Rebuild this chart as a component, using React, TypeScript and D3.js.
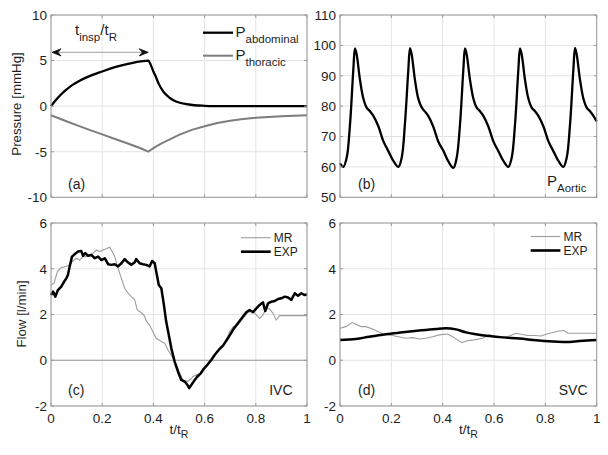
import React from 'react';
import * as d3 from 'd3';

const FONT = '"Liberation Sans", Arial, Helvetica, sans-serif';

// ---- ticks ----
const xTicks = [0, 0.2, 0.4, 0.6, 0.8, 1];
const xTickLabels = ['0', '0.2', '0.4', '0.6', '0.8', '1'];
const pressureTicks = [-10, -5, 0, 5, 10];
const aorticTicks = [50, 60, 70, 80, 90, 100, 110];
const flowTicks = [-2, 0, 2, 4, 6];

// ---- (a) abdominal / thoracic pressure ----
const abdT = [0, 0.02, 0.04, 0.06, 0.08, 0.1, 0.13, 0.16, 0.2, 0.24, 0.28, 0.32, 0.35, 0.38, 0.39, 0.4, 0.41, 0.42, 0.44, 0.46, 0.48, 0.5, 0.53, 0.56, 0.6, 0.65, 0.7, 0.8, 0.9, 1];
const abdP = [0, 0.7, 1.3, 1.8, 2.25, 2.6, 3.05, 3.4, 3.8, 4.2, 4.5, 4.75, 4.9, 5.0, 4.5, 3.8, 3.2, 2.5, 1.55, 1.0, 0.62, 0.4, 0.22, 0.1, 0.04, 0.01, 0, 0, 0, 0];
const thT = [0, 0.05, 0.1, 0.15, 0.2, 0.25, 0.3, 0.35, 0.38, 0.4, 0.43, 0.46, 0.5, 0.55, 0.6, 0.65, 0.7, 0.75, 0.8, 0.85, 0.9, 0.95, 1];
const thP = [-1, -1.55, -2.08, -2.6, -3.1, -3.6, -4.1, -4.62, -5.0, -4.6, -4.1, -3.7, -3.15, -2.6, -2.2, -1.85, -1.6, -1.42, -1.28, -1.18, -1.1, -1.04, -1.0];
const tInsp = 0.38;
const arrowLevel = 5.9;

// ---- (b) aortic pressure ----
const aortic: [number, number][] = [
  [0, 61.2],
  [0.013, 60], [0.026, 63], [0.039, 74], [0.0519, 92], [0.0584, 99], [0.0649, 97], [0.0779, 88.6], [0.0909, 82.5], [0.1039, 79.5], [0.1169, 78.3], [0.1299, 76.8], [0.1494, 73.4], [0.1688, 68.5], [0.1883, 65.2], [0.2078, 62],
  [0.2273, 60], [0.2403, 63], [0.2532, 74.5], [0.2662, 92], [0.2727, 99.1], [0.2792, 97], [0.2922, 88.5], [0.3052, 82.4], [0.3182, 79.6], [0.3312, 78.2], [0.3442, 76.7], [0.3636, 73.2], [0.3831, 68.3], [0.4026, 65.3], [0.4221, 61.8],
  [0.4416, 59.7], [0.4545, 63], [0.4675, 74], [0.4805, 92], [0.487, 99], [0.4935, 97], [0.5065, 88.6], [0.5195, 82.5], [0.5325, 79.5], [0.5455, 78.3], [0.5584, 76.8], [0.5779, 73.3], [0.5974, 68.4], [0.6169, 65.2], [0.6364, 62],
  [0.6558, 60], [0.6688, 63], [0.6818, 74], [0.6948, 92], [0.7013, 99], [0.7078, 97], [0.7208, 88.6], [0.7338, 82.5], [0.7468, 79.5], [0.7597, 78.3], [0.7727, 76.8], [0.7922, 73.4], [0.8117, 68.5], [0.8312, 65.2], [0.8506, 62],
  [0.8701, 60], [0.8831, 63], [0.8961, 74], [0.9091, 92], [0.9156, 99.2], [0.9221, 97], [0.9351, 88.6], [0.9481, 82.5], [0.961, 79.5], [0.974, 78.3], [0.987, 76.8], [1.0, 75],
];

// ---- (c) IVC flow ----
const ivcExp: [number, number][] = [
  [0, 2.85], [0.008, 3.0], [0.017, 2.78], [0.027, 3.07], [0.04, 3.22], [0.051, 3.43], [0.06, 3.58], [0.066, 3.73], [0.073, 4.1], [0.082, 4.53], [0.092, 4.63], [0.105, 4.75], [0.118, 4.78], [0.125, 4.57], [0.134, 4.68], [0.145, 4.57], [0.158, 4.6], [0.171, 4.46], [0.184, 4.53], [0.197, 4.38], [0.21, 4.46], [0.223, 4.2], [0.236, 4.17], [0.249, 4.2], [0.262, 4.1], [0.275, 4.24], [0.288, 4.42], [0.3, 4.28], [0.314, 4.17], [0.327, 4.28], [0.333, 4.42], [0.346, 4.24], [0.359, 4.2], [0.372, 4.17], [0.385, 4.1], [0.395, 4.34], [0.405, 4.24], [0.411, 3.88], [0.421, 3.29], [0.431, 3.15], [0.441, 2.42], [0.45, 1.69], [0.46, 1.11], [0.47, 0.52], [0.483, -0.06], [0.496, -0.5], [0.509, -0.86], [0.522, -0.93], [0.533, -1.08], [0.54, -1.22], [0.548, -1.08], [0.559, -0.9], [0.572, -0.71], [0.585, -0.57], [0.598, -0.35], [0.611, -0.2], [0.626, 0.01], [0.639, 0.23], [0.655, 0.45], [0.672, 0.64], [0.691, 0.96], [0.711, 1.33], [0.73, 1.62], [0.75, 1.91], [0.763, 2.1], [0.776, 2.2], [0.789, 2.1], [0.802, 2.27], [0.815, 2.42], [0.828, 2.53], [0.837, 2.15], [0.848, 2.49], [0.861, 2.56], [0.874, 2.59], [0.887, 2.68], [0.9, 2.71], [0.913, 2.78], [0.926, 2.74], [0.939, 2.64], [0.952, 2.93], [0.965, 2.82], [0.978, 2.93], [0.991, 2.85], [1.0, 2.88],
];
const ivcMr: [number, number][] = [
  [0, 3.29], [0.012, 3.37], [0.025, 3.88], [0.04, 4.05], [0.06, 4.1], [0.073, 4.17], [0.086, 4.34], [0.099, 4.46], [0.112, 4.38], [0.125, 4.53], [0.138, 4.53], [0.151, 4.6], [0.164, 4.68], [0.177, 4.82], [0.19, 4.75], [0.203, 4.82], [0.216, 4.87], [0.229, 4.94], [0.238, 4.78], [0.249, 4.53], [0.262, 4.02], [0.275, 3.58], [0.288, 3.15], [0.301, 2.93], [0.314, 2.78], [0.327, 2.64], [0.337, 2.2], [0.35, 2.1], [0.363, 1.98], [0.374, 1.69], [0.385, 1.54], [0.398, 1.25], [0.411, 0.96], [0.428, 0.84], [0.444, 0.74], [0.457, 0.45], [0.473, 0.16], [0.49, -0.2], [0.503, -0.57], [0.516, -0.86], [0.533, -0.93], [0.546, -0.82], [0.555, -0.71], [0.568, -0.64], [0.581, -0.61], [0.6, -0.38], [0.626, 0.01], [0.652, 0.38], [0.678, 0.74], [0.698, 1.25], [0.711, 1.47], [0.73, 1.54], [0.75, 1.83], [0.77, 2.1], [0.789, 2.15], [0.802, 1.98], [0.815, 1.83], [0.828, 1.98], [0.841, 2.27], [0.854, 2.24], [0.867, 2.05], [0.88, 1.76], [0.893, 1.95], [0.906, 1.95], [1.0, 1.95],
];

// ---- (d) SVC flow ----
const svcExp: [number, number][] = [
  [0, 0.89], [0.062, 0.93], [0.114, 1.03], [0.179, 1.14], [0.244, 1.22], [0.309, 1.3], [0.374, 1.37], [0.413, 1.4], [0.452, 1.35], [0.491, 1.22], [0.53, 1.14], [0.582, 1.06], [0.634, 1.0], [0.699, 0.95], [0.764, 0.87], [0.829, 0.82], [0.881, 0.8], [0.932, 0.84], [1.0, 0.89],
];
const svcMr: [number, number][] = [
  [0, 1.4], [0.023, 1.47], [0.047, 1.65], [0.062, 1.57], [0.082, 1.47], [0.101, 1.47], [0.127, 1.37], [0.153, 1.22], [0.173, 1.14], [0.205, 1.08], [0.231, 1.02], [0.257, 0.96], [0.283, 0.99], [0.309, 0.93], [0.335, 0.96], [0.361, 1.03], [0.387, 1.11], [0.419, 1.15], [0.439, 1.03], [0.458, 0.89], [0.475, 0.77], [0.497, 0.86], [0.523, 0.89], [0.556, 0.96], [0.582, 1.11], [0.608, 1.03], [0.634, 1.0], [0.66, 1.06], [0.686, 1.18], [0.705, 1.14], [0.731, 1.08], [0.757, 1.08], [0.783, 1.06], [0.803, 1.14], [0.829, 1.21], [0.855, 1.28], [0.874, 1.3], [0.887, 1.18], [1.0, 1.18],
];

type Lin = d3.ScaleLinear<number, number>;

const GRID = '#e4e4e4';
const AXIS = '#9a9a9a';
const TXT = '#1e1e1e';
const TICK_FS = 13.5;

function Grid({ x, y, yTicks }: { x: Lin; y: Lin; yTicks: number[] }) {
  const [x0, x1] = x.range();
  const [y0, y1] = y.range();
  return (
    <g>
      <rect x={x0} y={y1} width={x1 - x0} height={y0 - y1} fill="#fff" />
      {xTicks.map((t) => (
        <line key={'gx' + t} x1={x(t)} x2={x(t)} y1={y1} y2={y0} stroke={GRID} strokeWidth={1} />
      ))}
      {yTicks.map((v) => (
        <line key={'gy' + v} x1={x0} x2={x1} y1={y(v)} y2={y(v)} stroke={GRID} strokeWidth={1} />
      ))}
    </g>
  );
}

function Frame({ x, y, yTicks, showX }: { x: Lin; y: Lin; yTicks: number[]; showX: boolean }) {
  const [x0, x1] = x.range();
  const [y0, y1] = y.range();
  const tl = 3;
  return (
    <g>
      <rect x={x0} y={y1} width={x1 - x0} height={y0 - y1} fill="none" stroke={AXIS} strokeWidth={1} />
      {xTicks.map((t) => (
        <g key={'tx' + t}>
          <line x1={x(t)} x2={x(t)} y1={y0} y2={y0 - tl} stroke={AXIS} />
          <line x1={x(t)} x2={x(t)} y1={y1} y2={y1 + tl} stroke={AXIS} />
        </g>
      ))}
      {yTicks.map((v) => (
        <g key={'ty' + v}>
          <line x1={x0} x2={x0 + tl} y1={y(v)} y2={y(v)} stroke={AXIS} />
          <line x1={x1} x2={x1 - tl} y1={y(v)} y2={y(v)} stroke={AXIS} />
          <text x={x0 - 4} y={y(v)} dy="0.36em" textAnchor="end" fontSize={TICK_FS} fill={TXT}>
            {String(v)}
          </text>
        </g>
      ))}
      {showX &&
        xTicks.map((t, i) => (
          <text key={'lx' + t} x={x(t)} y={y0 + 16.5} textAnchor="middle" fontSize={TICK_FS} fill={TXT}>
            {xTickLabels[i]}
          </text>
        ))}
      {showX && (
        <text x={(x0 + x1) / 2} y={y0 + 27.5} textAnchor="middle" fontSize={13.5} fill={TXT}>
          t/t
          <tspan fontSize={10.5} dy={4.5}>R</tspan>
        </text>
      )}
    </g>
  );
}

function Legend({ xRight, yTop }: { xRight: number; yTop: number }) {
  const lx0 = xRight - 66;
  const lx1 = xRight - 36.3;
  return (
    <g fontSize={12} fill={TXT}>
      <line x1={lx0} x2={lx1} y1={yTop} y2={yTop} stroke="#9d9d9d" strokeWidth={1.1} />
      <text x={lx1 + 3} y={yTop + 4.3}>MR</text>
      <line x1={lx0} x2={lx1} y1={yTop + 14} y2={yTop + 14} stroke="#000" strokeWidth={2.6} />
      <text x={lx1 + 3} y={yTop + 18.3}>EXP</text>
    </g>
  );
}

export default function App() {
  const xa = d3.scaleLinear().domain([0, 1]).range([51, 307]);
  const xb = d3.scaleLinear().domain([0, 1]).range([340, 596.7]);
  const ya = d3.scaleLinear().domain([-10, 10]).range([197.3, 15]);
  const yb = d3.scaleLinear().domain([50, 110]).range([197.3, 15]);
  const yc = d3.scaleLinear().domain([-2, 6]).range([406, 223]);
  const yd = d3.scaleLinear().domain([-2, 6]).range([406, 223]);

  const mk = (x: Lin, y: Lin, curve: d3.CurveFactory) =>
    d3.line<[number, number]>().x((d) => x(d[0])).y((d) => y(d[1])).curve(curve);

  const abd = abdT.map((t, i) => [t, abdP[i]] as [number, number]);
  const tho = thT.map((t, i) => [t, thP[i]] as [number, number]);

  const ay = ya(arrowLevel);
  const ax0 = xa(0) + 1;
  const ax1 = xa(tInsp);

  return (
    <svg
      width={608}
      height={455}
      style={{ position: 'absolute', left: 0, top: 0, background: '#fff' }}
      fontFamily={FONT}
    >
      <rect x={0} y={0} width={608} height={455} fill="#fff" />

      {/* (a) */}
      <Grid x={xa} y={ya} yTicks={pressureTicks} />
      <path d={mk(xa, ya, d3.curveLinear)(tho) || ''} fill="none" stroke="#7d7d7d" strokeWidth={2} />
      <path d={mk(xa, ya, d3.curveMonotoneX)(abd) || ''} fill="none" stroke="#000" strokeWidth={2.3} />
      <line x1={ax0 + 4} x2={ax1 - 4} y1={ay} y2={ay} stroke="#b4b4b4" strokeWidth={1.2} />
      <path d={`M${ax0},${ay} L${ax0 + 9},${ay - 3.6} L${ax0 + 6},${ay} L${ax0 + 9},${ay + 3.6} Z`} fill="#111" stroke="#111" strokeWidth={0.8} />
      <path d={`M${ax1},${ay} L${ax1 - 9},${ay - 3.6} L${ax1 - 6},${ay} L${ax1 - 9},${ay + 3.6} Z`} fill="#111" stroke="#111" strokeWidth={0.8} />
      <text x={75} y={35} fontSize={15} fill={TXT}>
        t<tspan fontSize={11.5} dy={6}>insp</tspan>
        <tspan fontSize={15} dy={-6}>/t</tspan>
        <tspan fontSize={11.5} dy={6}>R</tspan>
      </text>
      <line x1={203} x2={233} y1={32.7} y2={32.7} stroke="#000" strokeWidth={2.3} />
      <line x1={203} x2={233} y1={55.7} y2={55.7} stroke="#7d7d7d" strokeWidth={2} />
      <text x={235.5} y={36.5} fontSize={15} fill={TXT}>
        P<tspan fontSize={11.5} dy={6}>abdominal</tspan>
      </text>
      <text x={235.5} y={59.5} fontSize={15} fill={TXT}>
        P<tspan fontSize={11.5} dy={6}>thoracic</tspan>
      </text>
      <text x={68} y={188.5} fontSize={14} fill={TXT}>(a)</text>
      <Frame x={xa} y={ya} yTicks={pressureTicks} showX={false} />
      <text transform="translate(21,104) rotate(-90)" textAnchor="middle" fontSize={13.3} fill={TXT}>
        Pressure [mmHg]
      </text>

      {/* (b) */}
      <Grid x={xb} y={yb} yTicks={aorticTicks} />
      <path d={mk(xb, yb, d3.curveCatmullRom.alpha(0.5))(aortic) || ''} fill="none" stroke="#000" strokeWidth={2.3} />
      <text x={358} y={188.5} fontSize={14} fill={TXT}>(b)</text>
      <text x={547} y={185.5} fontSize={15} fill={TXT}>
        P<tspan fontSize={11.5} dy={6}>Aortic</tspan>
      </text>
      <Frame x={xb} y={yb} yTicks={aorticTicks} showX={false} />

      {/* (c) */}
      <Grid x={xa} y={yc} yTicks={flowTicks} />
      <line x1={xa(0)} x2={xa(1)} y1={yc(0)} y2={yc(0)} stroke="#9a9a9a" strokeWidth={1.1} />
      <path d={mk(xa, yc, d3.curveLinear)(ivcMr) || ''} fill="none" stroke="#9d9d9d" strokeWidth={1.1} />
      <path d={mk(xa, yc, d3.curveLinear)(ivcExp) || ''} fill="none" stroke="#000" strokeWidth={2.5} strokeLinejoin="round" />
      <Legend xRight={307} yTop={237.7} />
      <text x={68} y={394.5} fontSize={14} fill={TXT}>(c)</text>
      <text x={292.5} y={394.5} fontSize={14} textAnchor="end" fill={TXT}>IVC</text>
      <Frame x={xa} y={yc} yTicks={flowTicks} showX={true} />
      <text transform="translate(26,314) rotate(-90)" textAnchor="middle" fontSize={13.3} fill={TXT}>
        Flow [l/min]
      </text>

      {/* (d) */}
      <Grid x={xb} y={yd} yTicks={flowTicks} />
      <path d={mk(xb, yd, d3.curveLinear)(svcMr) || ''} fill="none" stroke="#9d9d9d" strokeWidth={1.1} />
      <path d={mk(xb, yd, d3.curveMonotoneX)(svcExp) || ''} fill="none" stroke="#000" strokeWidth={2.5} />
      <Legend xRight={596.7} yTop={236.5} />
      <text x={358} y={394.5} fontSize={14} fill={TXT}>(d)</text>
      <text x={587.5} y={394.5} fontSize={14} textAnchor="end" fill={TXT}>SVC</text>
      <Frame x={xb} y={yd} yTicks={flowTicks} showX={true} />
    </svg>
  );
}
